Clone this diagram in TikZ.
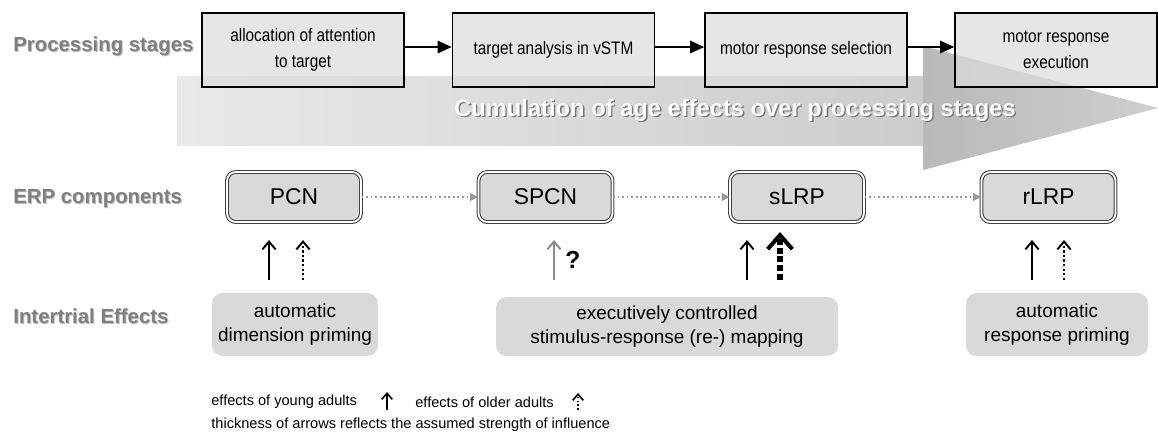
\documentclass[tikz,border=0pt]{standalone}
\usepackage{fontspec}
\setmainfont{Liberation Sans}
\newfontfamily\narrowfont{Liberation Sans}[FakeStretch=0.85]
\usetikzlibrary{arrows.meta,positioning}

\definecolor{labelgray}{HTML}{7F7F7F}
\definecolor{stagefill}{HTML}{DCDCDC}
\definecolor{erpfill}{HTML}{D9D9D9}
\definecolor{questgray}{HTML}{8C8C8C}

\tikzset{
  rowlabel/.style={anchor=west,inner sep=0pt,text=labelgray,font=\bfseries\fontsize{11.6}{14}\selectfont},
  rowshadow/.style={rowlabel,text=black!25},
  stagebox/.style={draw=black,line width=0.9pt,fill=stagefill,fill opacity=0.7,text opacity=1,
    minimum width=4.04cm,minimum height=1.48cm,align=center,
    font=\narrowfont\fontsize{10.3}{14.7}\selectfont},
  erpbox/.style={draw=black!75,line width=0.6pt,double=white,double distance=1pt,
    rounded corners=5pt,fill=erpfill,minimum width=2.68cm,minimum height=1cm,
    font=\fontsize{13}{15}\selectfont},
  effectbox/.style={fill=erpfill,rounded corners=6pt,align=center,
    font=\fontsize{10.8}{13.6}\selectfont},
  cumtext/.style={text=white,inner sep=0pt,font=\bfseries\fontsize{13.5}{16}\selectfont},
  cumshadow/.style={cumtext,text=black!55},
  legendtext/.style={anchor=west,inner sep=0pt,font=\fontsize{8.3}{10}\selectfont},
  stagearrow/.style={line width=1.1pt,-{Triangle[length=8pt,width=7pt]}},
  erparrow/.style={draw=black!40,line width=0.9pt,dash pattern=on 1pt off 1.6pt,
    -{Triangle[length=4.5pt,width=4.5pt]}},
  young/.style={line width=1.1pt,-{Straight Barb[length=4.5pt,width=7.5pt]}},
  older/.style={young,dash pattern=on 1.3pt off 1.3pt},
  olderstrong/.style={line width=3.2pt,dash pattern=on 3.4pt off 1.6pt,
    -{Straight Barb[length=8pt,width=14pt,line width=2.3pt]}},
  legendyoung/.style={line width=0.9pt,-{Straight Barb[length=3.5pt,width=6pt]}},
  legendolder/.style={legendyoung,dash pattern=on 1pt off 1.2pt}
}

\begin{document}
\begin{tikzpicture}[x=0.02cm,y=-0.02cm]
\useasboundingbox (0,0) rectangle (1158,444);

% cumulation arrow
\shade[left color=gray!17,right color=gray!40] (177,76) rectangle (923,145);
\shade[left color=gray!55,right color=gray!38] (923,46) -- (1158,108) -- (923,170) -- cycle;
\node[cumshadow] (cum-sh) at (736.3,111.3) {Cumulation of age effects over processing stages};
\node[cumtext] (cum) at (735,110) {Cumulation of age effects over processing stages};

% row labels
\node[rowshadow] (stages-sh) at (14,47) {Processing stages};
\node[rowlabel] (stages) at (13,46) {Processing stages};
\node[rowshadow] (erp-sh) at (14,200) {ERP components};
\node[rowlabel] (erp) at (13,199) {ERP components};
\node[rowshadow] (inter-sh) at (14,317) {Intertrial Effects};
\node[rowlabel] (inter) at (13,316) {Intertrial Effects};

% processing stages
\node[stagebox] (s1) at (303,50) {allocation of attention\\to target};
\node[stagebox] (s2) at (553.5,50) {target analysis in vSTM};
\node[stagebox] (s3) at (806,50) {motor response selection};
\node[stagebox] (s4) at (1056,50) {motor response\\execution};
\foreach \a/\b in {s1/s2,s2/s3,s3/s4}
  \draw[stagearrow] ([yshift=0.06cm]\a.east) -- ([yshift=0.06cm]\b.west);

% ERP components
\node[erpbox] (pcn) at (294,197) {PCN};
\node[erpbox] (spcn) at (545.5,197) {SPCN};
\node[erpbox] (slrp) at (797,197) {sLRP};
\node[erpbox] (rlrp) at (1048.5,197) {rLRP};
\foreach \a/\b in {pcn/spcn,spcn/slrp,slrp/rlrp}
  \draw[erparrow] (\a) -- (\b);

% intertrial effects
\node[effectbox,minimum width=3.32cm,minimum height=1.26cm] (dimprime) at (295,324.5) {automatic\\dimension priming};
\node[effectbox,minimum width=6.84cm,minimum height=1.18cm] (mapping) at (667,326.5) {executively controlled\\stimulus-response (re-) mapping};
\node[effectbox,minimum width=3.64cm,minimum height=1.26cm] (respprime) at (1057,324.5) {automatic\\response priming};

% influence arrows
\foreach \n/\x/\t in {pa/269/240,pb/303/240,sa/554/240,la/747/240,lb/780/232,ra/1032/240,rb/1064/240}{
  \coordinate (\n-bot) at (\x,280);
  \coordinate (\n-top) at (\x,\t);
}
\draw[young] (pa-bot) -- (pa-top);
\draw[older] (pb-bot) -- (pb-top);
\draw[young,draw=questgray] (sa-bot) -- (sa-top);
\node[font=\bfseries\fontsize{14}{16}\selectfont] (quest) at (573,260) {?};
\draw[young] (la-bot) -- (la-top);
\draw[olderstrong] (lb-bot) -- (lb-top);
\draw[young] (ra-bot) -- (ra-top);
\draw[older] (rb-bot) -- (rb-top);

% legend
\node[legendtext] (leg-young) at (211,402) {effects of young adults};
\coordinate (ly-bot) at (387,410);
\coordinate (ly-top) at (387,392);
\draw[legendyoung] (ly-bot) -- (ly-top);
\node[legendtext] (leg-older) at (415,402) {effects of older adults};
\coordinate (lo-bot) at (578,410);
\coordinate (lo-top) at (578,393);
\draw[legendolder] (lo-bot) -- (lo-top);
\node[legendtext] (leg-thick) at (211,425) {thickness of arrows reflects the assumed strength of influence};
\end{tikzpicture}
\end{document}
